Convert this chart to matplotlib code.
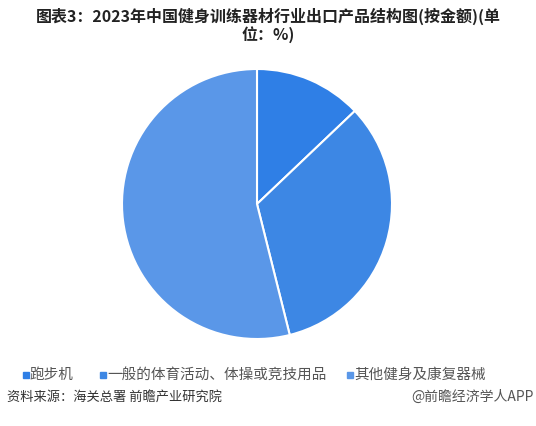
import matplotlib.pyplot as plt
from matplotlib.patches import Rectangle

plt.rcParams['font.family'] = ['Noto Sans CJK SC', 'DejaVu Sans']

# 2023年出口产品结构 (按金额, %)
categories = ['跑步机', '一般的体育活动、体操或竞技用品', '其他健身及康复器械']
shares = [12.9, 33.2, 53.9]
colors = ['#2f7fe6', '#3d87e4', '#5a97e8']

title = '图表3：2023年中国健身训练器材行业出口产品结构图(按金额)(单\n位：%)'
source = '资料来源：海关总署 前瞻产业研究院'
brand = '@前瞻经济学人APP'

W, H = 536, 427
fig = plt.figure(figsize=(W / 100, H / 100), dpi=100)
fig.patch.set_facecolor('white')

# pie centre (257, 205), radius ~135 px
r = 135
ax = fig.add_axes([(257 - r) / W, 1 - (205 + r) / H, 2 * r / W, 2 * r / H])
ax.pie(shares, colors=colors, startangle=90, counterclock=False,
       wedgeprops=dict(edgecolor='white', linewidth=1.5))
ax.set_aspect('equal')
ax.set_xlim(-1, 1)
ax.set_ylim(-1, 1)
ax.axis('off')

fig.text(0.5, 1 - 8 / H, title, ha='center', va='top', fontsize=11.5,
         fontweight='bold', color='#222222', linespacing=1.05)

# legend drawn by hand to keep the reference spacing
leg_x = [23, 100, 347]
for x, name, c in zip(leg_x, categories, colors):
    fig.patches.append(Rectangle((x / W, 1 - 378.5 / H), 6 / W, 6 / H,
                                 transform=fig.transFigure, color=c))
    fig.text((x + 7) / W, 1 - 375 / H, name, ha='left', va='center',
             fontsize=10.5, color='#555555')

fig.text(7 / W, 1 - 397 / H, source, ha='left', va='center', fontsize=9.5,
         color='#333333')
fig.text(534 / W, 1 - 397 / H, brand, ha='right', va='center', fontsize=10,
         color='#555555')

fig.savefig('out.png', dpi=100)
